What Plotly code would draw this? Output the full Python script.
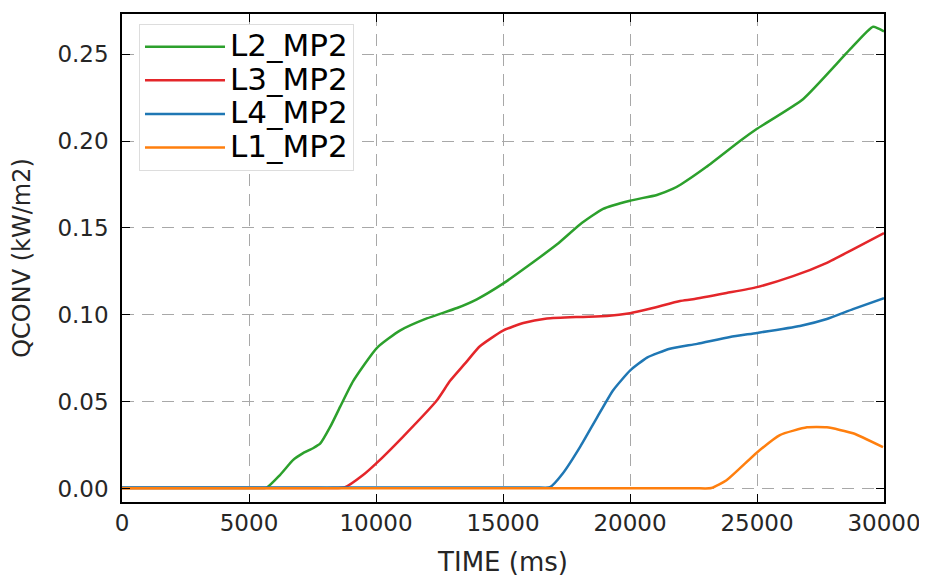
import plotly.graph_objects as go

# L2_MP2 (green)
t_l2 = [0, 1500, 3000, 4500, 5200, 5700, 6220, 6730, 7130, 7520, 7800, 8190, 8580, 9100,
        10030, 10940, 12000, 13190, 13970, 15000, 16060, 17130, 18030, 18940, 20000,
        21060, 21700, 22000, 23000, 24330, 25000, 26810, 28660, 29570, 30000]
v_l2 = [0.0005, 0.0005, 0.0005, 0.0005, 0.0005, 0.0008, 0.008, 0.0166, 0.0206, 0.0234,
        0.026, 0.0355, 0.047, 0.062, 0.081, 0.091, 0.098, 0.104, 0.109, 0.118, 0.129,
        0.1406, 0.152, 0.161, 0.1657, 0.169, 0.1726, 0.175, 0.185, 0.200, 0.207, 0.224,
        0.2526, 0.2657, 0.263]

# L3_MP2 (red)
t_l3 = [0, 2000, 4000, 6000, 7500, 8300, 8780, 9490, 10030, 11060, 12400, 12910, 13500,
        14090, 15000, 15800, 16730, 18030, 19090, 20000, 20900, 21970, 22480, 23800,
        25000, 26420, 27750, 28780, 30000]
v_l3 = [0.0005, 0.0005, 0.0005, 0.0005, 0.0005, 0.0005, 0.001, 0.008, 0.015, 0.030, 0.051,
        0.062, 0.072, 0.082, 0.091, 0.0954, 0.098, 0.0989, 0.0994, 0.101, 0.104, 0.108,
        0.109, 0.1126, 0.116, 0.1223, 0.130, 0.1377, 0.147]

# L4_MP2 (blue)
t_l4 = [0, 3000, 6000, 9000, 12000, 15000, 16300, 16850, 17360, 18030, 18700, 19330,
        20000, 20670, 21570, 22640, 23940, 25000, 26690, 27750, 28780, 30000]
v_l4 = [0.0008, 0.0008, 0.0008, 0.0008, 0.0008, 0.0008, 0.0009, 0.001, 0.009, 0.024,
        0.041, 0.0566, 0.068, 0.0755, 0.0806, 0.0834, 0.0874, 0.0897, 0.0937, 0.0977,
        0.1034, 0.1097]

# L1_MP2 (orange)
t_l1 = [0, 3000, 6000, 9000, 12000, 15000, 18000, 21000, 22600, 23200, 23800, 25000,
        25900, 26970, 27750, 28780, 29960]
v_l1 = [0.0004, 0.0004, 0.0004, 0.0004, 0.0004, 0.0004, 0.0004, 0.0004, 0.0004, 0.0005,
        0.005, 0.021, 0.031, 0.0354, 0.0354, 0.032, 0.024]

series = [
    ("L2_MP2", t_l2, v_l2, "#2ca02c"),
    ("L3_MP2", t_l3, v_l3, "#e4262a"),
    ("L4_MP2", t_l4, v_l4, "#1f77b4"),
    ("L1_MP2", t_l1, v_l1, "#ff7f0e"),
]

x_ticks = [0, 5000, 10000, 15000, 20000, 25000, 30000]
y_ticks = [0.00, 0.05, 0.10, 0.15, 0.20, 0.25]
y_tick_labels = ["0.00", "0.05", "0.10", "0.15", "0.20", "0.25"]

fig = go.Figure()
for name, t, v, c in series:
    fig.add_trace(go.Scatter(
        x=t, y=v, mode="lines",
        name='<span style="font-size:31px">' + name + '</span>',
        line=dict(color=c, width=2.5, shape="spline", smoothing=0.5)))

font = "DejaVu Sans, Liberation Sans, sans-serif"
axis_common = dict(showline=True, linecolor="black", linewidth=1.5, mirror="ticks",
                   ticks="inside", ticklen=8, tickwidth=1, tickcolor="black",
                   showgrid=True, gridcolor="#a8a8a8", gridwidth=1, griddash="12px,8px",
                   zeroline=False, automargin=False,
                   tickfont=dict(family=font, size=23, color="#262626"))

# page body adds an 8px offset, so the figure is sized/margined to compensate
fig.update_layout(
    width=919, height=571,
    margin=dict(l=114, r=43, t=6, b=77),
    paper_bgcolor="white", plot_bgcolor="white",
    font=dict(family=font, color="#262626"),
    xaxis=dict(range=[0, 30000], tickvals=x_ticks, ticktext=[str(x) for x in x_ticks],
               title=dict(text="TIME (ms)", font=dict(size=26, family=font), standoff=17),
               ticklabeloverflow="allow",
               **axis_common),
    yaxis=dict(range=[-0.0075, 0.273], tickvals=y_ticks, ticktext=y_tick_labels,
               title=dict(text="QCONV (kW/m2)", font=dict(size=24, family=font), standoff=24),
               ticklabelstandoff=7,
               **axis_common),
    legend=dict(x=0.0223, y=0.9795, xanchor="left", yanchor="top",
                bgcolor="white", bordercolor="#dddddd", borderwidth=1,
                font=dict(family=font, size=23.5, color="black"),
                itemwidth=80, tracegroupgap=0),
    showlegend=True,
)

fig.write_html("out.html")
